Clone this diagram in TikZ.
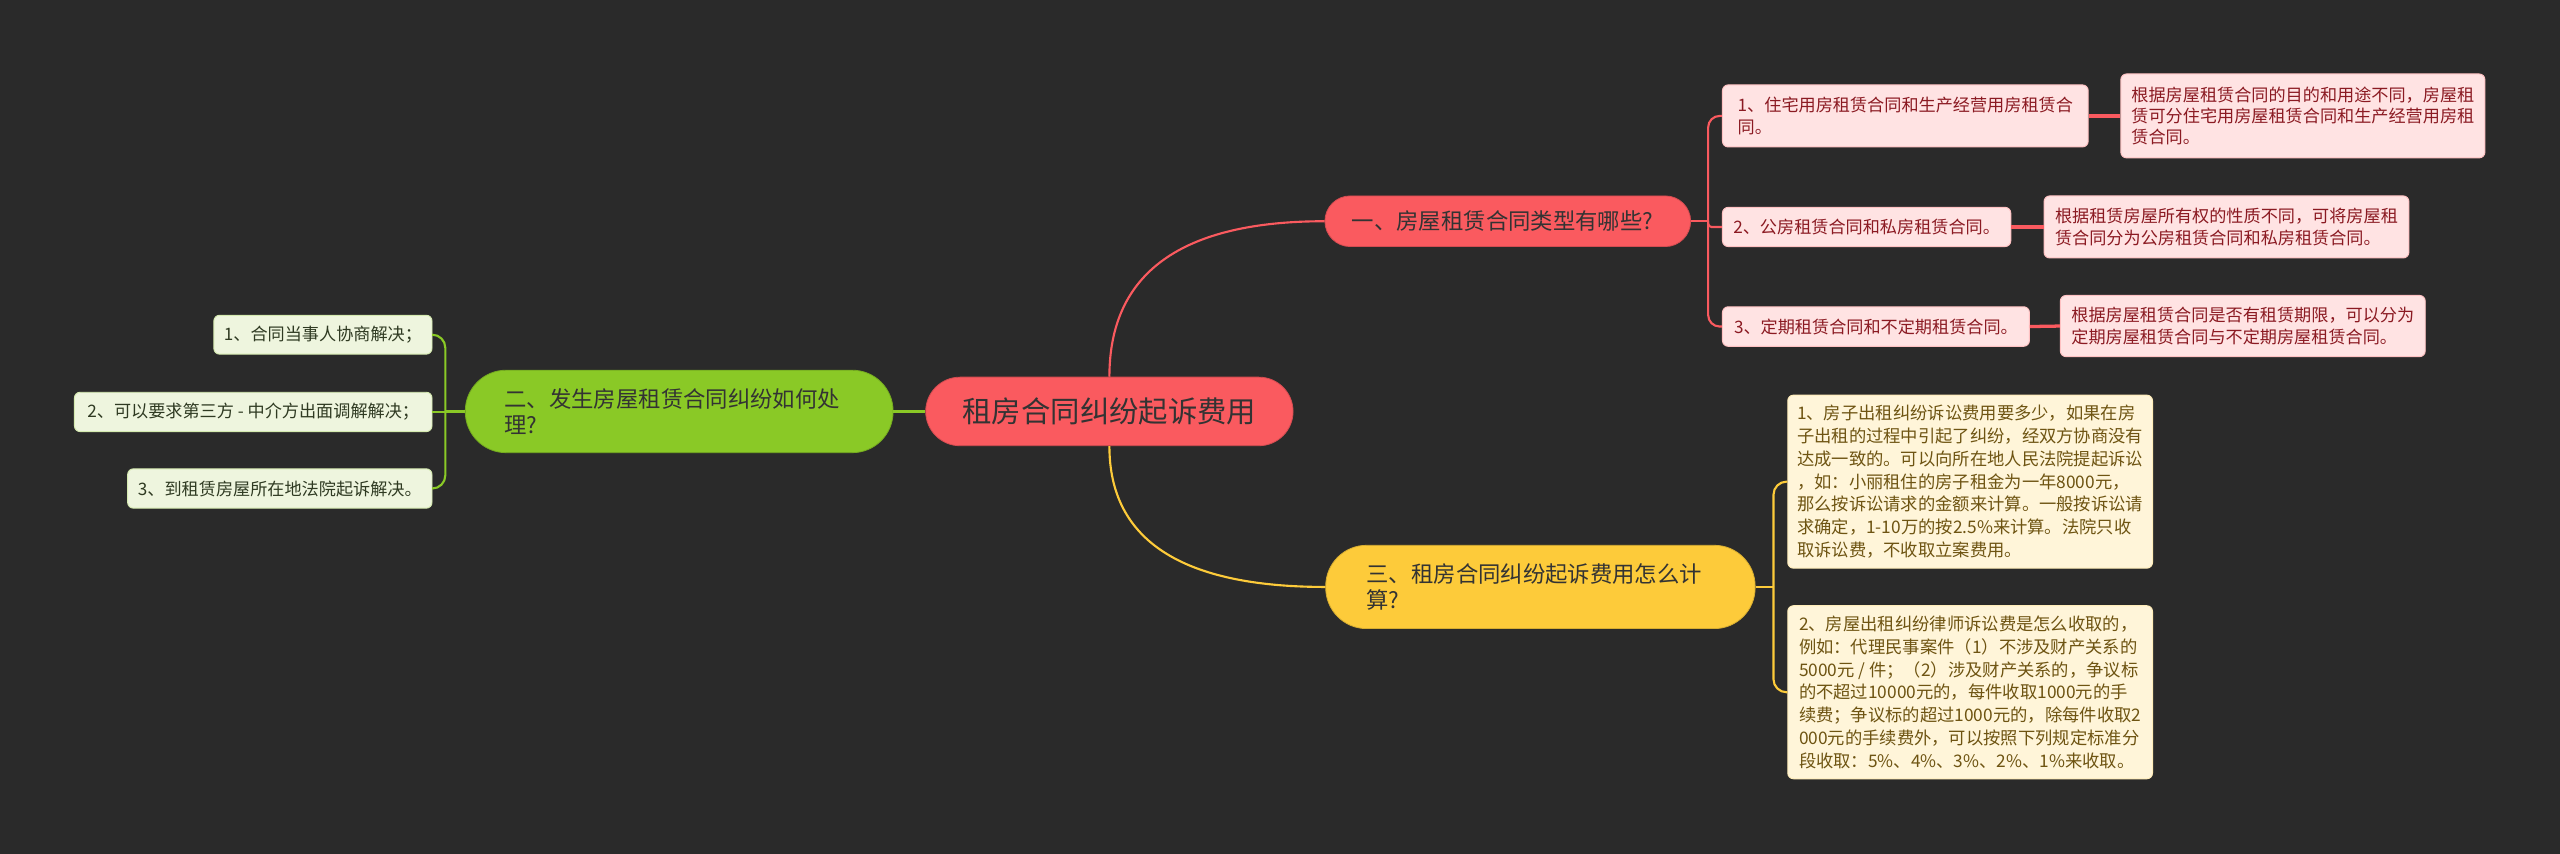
\documentclass[tikz,border=0pt]{standalone}
\usepackage{fontspec}
\setmainfont{Noto Sans CJK SC}
\usetikzlibrary{calc}
\definecolor{bg}{HTML}{2A2A2A}
\definecolor{cred}{HTML}{FA5A5F}
\definecolor{cyel}{HTML}{FDCB3A}
\definecolor{cgrn}{HTML}{8AC926}
\definecolor{pinkfill}{HTML}{FFE3E3}
\definecolor{pinktext}{HTML}{8B1A22}
\definecolor{yelfill}{HTML}{FFF5D9}
\definecolor{yeltext}{HTML}{6E5412}
\definecolor{grnfill}{HTML}{EEF5DE}
\definecolor{grntext}{HTML}{2F3A22}
\definecolor{dark}{HTML}{333333}
\tikzset{
  rootnode/.style={fill=cred, draw=cred!85!black, line width=0.5pt, rounded corners=21pt,
    text=dark, font=\fontsize{18}{22}\selectfont, inner sep=0pt},
  branch/.style={text=dark, font=\fontsize{13.7}{16.3}\selectfont, inner ysep=0pt, align=left, line width=0.5pt},
  childbox/.style={rounded corners=3.5pt, inner xsep=4pt, inner ysep=0pt, align=left, line width=0.6pt},
  pinkc/.style={childbox, fill=pinkfill, draw=pinkfill!75!cred, text=pinktext, font=\fontsize{10.5}{13}\selectfont},
  yelc/.style={childbox, fill=yelfill, draw=yelfill!80!cyel, text=yeltext, font=\fontsize{10.6}{13.95}\selectfont},
  grnc/.style={childbox, fill=grnfill, draw=grnfill!75!cgrn, text=grntext, font=\fontsize{10.5}{13}\selectfont},
  link/.style={line width=1.3pt},
  thicklink/.style={line width=2pt},
}
\begin{document}
\begin{tikzpicture}[x=1pt,y=-1pt]
\fill[bg] (0,0) rectangle (1568,523);
\useasboundingbox (0,0) rectangle (1568,523);

% root
\node[rootnode, minimum width=225pt, minimum height=42pt] (root) at (679.5,252) {租房合同纠纷起诉费用};

% branches
\node[branch, fill=cred, draw=cred!85!black, rounded corners=15.5pt, minimum height=31pt, text width=191pt, inner xsep=16.5pt] (b1) at (923.5,135.5) {一、房屋租赁合同类型有哪些?};
\node[branch, fill=cgrn, draw=cgrn!85!black, rounded corners=25pt, minimum height=50.5pt, text width=214pt, inner xsep=24pt] (b2) at (416,252) {二、发生房屋租赁合同纠纷如何处\\理?};
\node[branch, fill=cyel, draw=cyel!85!black, rounded corners=25pt, minimum height=51pt, text width=213pt, inner xsep=25pt] (b3) at (943.5,359.5) {三、租房合同纠纷起诉费用怎么计\\算?};

% branch 1 children
\node[pinkc, minimum width=224pt, minimum height=38pt] (c1) at (1167,71) {1、住宅用房租赁合同和生产经营用房租赁合\\同。};
\node[pinkc, minimum width=223pt, minimum height=51.4pt] (c1d) at (1410.5,71) {根据房屋租赁合同的目的和用途不同，房屋租\\赁可分住宅用房屋租赁合同和生产经营用房租\\赁合同。};
\node[pinkc, minimum width=176.6pt, minimum height=24pt] (c2) at (1143.3,139) {2、公房租赁合同和私房租赁合同。};
\node[pinkc, minimum width=223.5pt, minimum height=38pt] (c2d) at (1363.7,139) {根据租赁房屋所有权的性质不同，可将房屋租\\赁合同分为公房租赁合同和私房租赁合同。};
\node[pinkc, minimum width=188pt, minimum height=24.2pt] (c3) at (1149,200) {3、定期租赁合同和不定期租赁合同。};
\node[pinkc, minimum width=223.5pt, minimum height=37.5pt] (c3d) at (1373.7,199.7) {根据房屋租赁合同是否有租赁期限，可以分为\\定期房屋租赁合同与不定期房屋租赁合同。};

% branch 3 children
\node[yelc, minimum width=223.4pt, minimum height=106pt] (d1) at (1206.7,295) {1、房子出租纠纷诉讼费用要多少，如果在房\\子出租的过程中引起了纠纷，经双方协商没有\\达成一致的。可以向所在地人民法院提起诉讼\\，如：小丽租住的房子租金为一年8000元，\\那么按诉讼请求的金额来计算。一般按诉讼请\\求确定，1-10万的按2.5\%来计算。法院只收\\取诉讼费，不收取立案费用。};
\node[yelc, minimum width=223.4pt, minimum height=106pt] (d2) at (1206.7,424) {2、房屋出租纠纷律师诉讼费是怎么收取的，\\例如：代理民事案件（1）不涉及财产关系的\\5000元 / 件；（2）涉及财产关系的，争议标\\的不超过10000元的，每件收取1000元的手\\续费；争议标的超过1000元的，除每件收取2\\000元的手续费外，可以按照下列规定标准分\\段收取：5\%、4\%、3\%、2\%、1\%来收取。};

% branch 2 children
\node[grnc, minimum width=133.6pt, minimum height=23.8pt] (e1) at (197.8,205) {1、合同当事人协商解决；};
\node[grnc, minimum width=219pt, minimum height=24.1pt] (e2) at (155.1,252.3) {2、可以要求第三方 - 中介方出面调解解决；};
\node[grnc, minimum width=186.4pt, minimum height=24.1pt] (e3) at (171.4,299.2) {3、到租赁房屋所在地法院起诉解决。};

% junction points
\coordinate (j1) at ($(b1.east)+(10.5,0)$);
\coordinate (j2) at ($(b2.west)+(-12,0)$);
\coordinate (j3) at ($(b3.east)+(11,0)$);

% root connectors
\draw[link, cred] (root.north) .. controls ($(root.north)!0.667!(root.north |- b1.west)$) and ($(b1.west)!0.667!(root.north |- b1.west)$) .. (b1.west);
\draw[link, cyel] (root.south) .. controls ($(root.south)!0.667!(root.south |- b3.west)$) and ($(b3.west)!0.667!(root.south |- b3.west)$) .. (b3.west);
\draw[link, cgrn] (root.west) -- (b2.east);

% branch 1 bracket
\draw[link, cred] (b1.east) -- (j1);
\draw[link, cred, rounded corners=7pt] (j1) |- (c1.west);
\draw[link, cred, rounded corners=2pt] (j1) |- (c2.west);
\draw[link, cred, rounded corners=7pt] (j1) |- (c3.west);
\draw[thicklink, cred] (c1.east) -- (c1d.west);
\draw[thicklink, cred] (c2.east) -- (c2d.west);
\draw[thicklink, cred] (c3.east) -- (c3d.west);

% branch 3 bracket
\draw[link, cyel] (b3.east) -- (j3);
\draw[link, cyel, rounded corners=8pt] (j3) |- (d1.west);
\draw[link, cyel, rounded corners=8pt] (j3) |- (d2.west);

% branch 2 bracket
\draw[link, cgrn] (b2.west) -- (j2);
\draw[link, cgrn, rounded corners=8pt] (j2) |- (e1.east);
\draw[link, cgrn] (j2) |- (e2.east);
\draw[link, cgrn, rounded corners=8pt] (j2) |- (e3.east);
\end{tikzpicture}
\end{document}
